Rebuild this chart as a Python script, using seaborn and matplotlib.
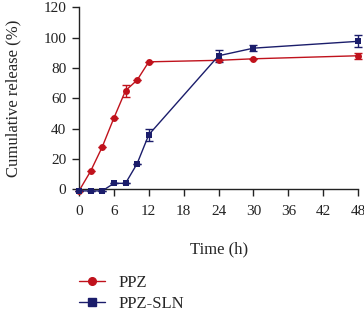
import matplotlib
matplotlib.use("Agg")
import matplotlib.pyplot as plt
import seaborn as sns
import pandas as pd
from matplotlib.lines import Line2D

time_h = [0, 2, 4, 6, 8, 10, 12, 24, 30, 48]
ppz = [-1, 12, 28, 47, 65, 72, 84, 85, 86, 88]
ppz_err = [0, 0, 0, 0, 4, 0, 0, 0, 0, 2]
sln = [-1, -1, -1, 4, 4, 17, 36, 88, 93, 97.5]
sln_err = [0, 0, 0, 0, 0, 0, 4, 4, 2, 4]
xticks = [0, 6, 12, 18, 24, 30, 36, 42, 48]
yticks = [0, 20, 40, 60, 80, 100, 120]

sns.set_style("ticks")
plt.rcParams['font.family'] = ['Liberation Serif', 'DejaVu Serif']

red = "#C0121C"
navy = "#1B1D6B"

df = pd.concat([
    pd.DataFrame({"Time": time_h, "Release": ppz, "err": ppz_err, "Group": "PPZ"}),
    pd.DataFrame({"Time": time_h, "Release": sln, "err": sln_err, "Group": "PPZ-SLN"}),
])

fig = plt.figure(figsize=(3.64, 3.11), dpi=100)
ax = fig.add_axes([0.217, 0.391, 0.767, 0.586])

sns.lineplot(data=df, x="Time", y="Release", hue="Group", style="Group",
             markers={"PPZ": "o", "PPZ-SLN": "s"}, dashes=False,
             palette={"PPZ": red, "PPZ-SLN": navy}, markersize=5,
             markeredgewidth=0, linewidth=1.0, ax=ax, legend=False, zorder=3)
for (name, sub), col in zip(df.groupby("Group"), [red, navy]):
    ax.errorbar(sub["Time"], sub["Release"], yerr=sub["err"], fmt="none",
                ecolor=col, elinewidth=1, capsize=3, capthick=1, zorder=2)

ax.set_xlim(0, 48)
ax.set_ylim(0, 120)
ax.set_xticks(xticks)
ax.set_yticks(yticks)
ax.tick_params(axis="both", labelsize=11, length=5, width=1, direction="out",
               colors="#222222", pad=4)
ax.tick_params(axis="x", pad=6)
for s in ["left", "bottom"]:
    ax.spines[s].set_linewidth(1)
    ax.spines[s].set_color("#222222")
sns.despine(ax=ax)
for line in ax.lines:
    line.set_clip_on(False)
for coll in ax.collections:
    coll.set_clip_on(False)

ax.set_xlabel("Time (h)", fontsize=12, labelpad=17)
ax.set_ylabel("Cumulative release (%)", fontsize=12, labelpad=16)

handles = [Line2D([], [], color=red, marker="o", markersize=5.5, linewidth=1.0),
           Line2D([], [], color=navy, marker="s", markersize=5.5, linewidth=1.0)]
fig.legend(handles, ["PPZ", "PPZ-SLN"], loc="lower left", bbox_to_anchor=(0.175, -0.05),
           frameon=False, fontsize=12, handlelength=1.6, handletextpad=0.8,
           labelspacing=0.3, borderaxespad=0.5)

fig.savefig("out.png", dpi=100)
